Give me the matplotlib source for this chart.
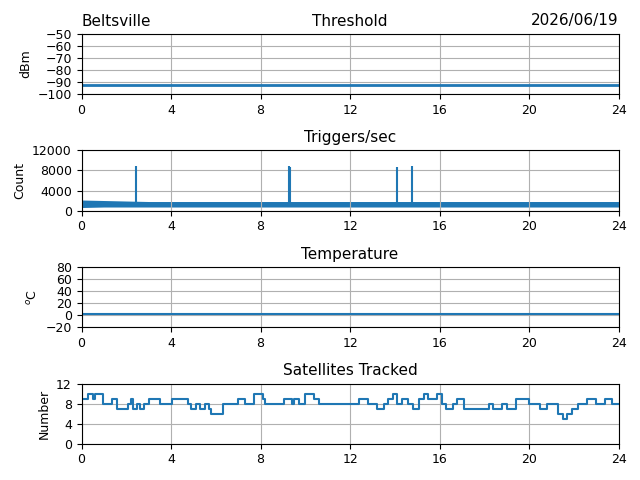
import numpy as np
import matplotlib
matplotlib.use("Agg")
import matplotlib.pyplot as plt

plt.rcParams["font.size"] = 9
plt.rcParams["axes.titlesize"] = 11

# threshold (dBm), flat
thr_hours = [0, 24]
thr_vals = [-93, -93]

# triggers/sec: band of low/high per hour, plus spikes
trig_hours = list(range(25))
trig_low = [600, 700, 700, 700, 700, 700, 700, 700, 700, 700, 700, 700, 700,
            700, 700, 700, 700, 700, 700, 700, 700, 700, 700, 700, 700]
trig_high = [2100, 2000, 1900, 1800, 1800, 1800, 1800, 1800, 1800, 1800, 1800, 1800, 1800,
             1800, 1800, 1800, 1800, 1800, 1800, 1800, 1800, 1800, 1800, 1800, 1800]
spike_hours = [2.45, 9.28, 9.33, 14.08, 14.75]
spike_vals = [8800, 8900, 8700, 8700, 8900]

# temperature
temp_hours = [0, 24]
temp_vals = [2, 2]

# satellites tracked, step change points
sat_hours = [0, 0.3, 0.5, 0.6, 0.95, 1.35, 1.6, 2.06, 2.2, 2.3, 2.5, 2.6, 2.8, 3.0, 3.17, 3.5,
             4.05, 4.4, 4.76, 4.9, 5.1, 5.3, 5.5, 5.7, 5.8, 6.3, 7.0, 7.3, 7.7, 8.1, 8.2,
             9.05, 9.4, 9.5, 9.7, 10.0, 10.4, 10.6, 11.8, 12.4, 12.8, 13.2, 13.5, 13.7, 13.9,
             14.1, 14.3, 14.6, 14.8, 15.1, 15.3, 15.5, 15.9, 16.1, 16.3, 16.6, 16.8, 17.1,
             17.7, 18.2, 18.4, 18.8, 19.0, 19.4, 20.0, 20.2, 20.5, 20.8, 21.3, 21.5, 21.7,
             21.9, 22.2, 22.6, 23.0, 23.4, 23.7, 24]
sat_vals = [9, 10, 9, 10, 8, 9, 7, 8, 9, 7, 8, 7, 8, 9, 9, 8,
            9, 9, 8, 7, 8, 7, 8, 7, 6, 8, 9, 8, 10, 9, 8,
            9, 8, 9, 8, 10, 9, 8, 8, 9, 8, 7, 8, 9, 10, 8, 9, 8, 7,
            9, 10, 9, 10, 8, 7, 8, 9, 7,
            7, 8, 7, 8, 7, 9, 8, 8, 7, 8, 6, 5, 6,
            7, 8, 9, 8, 9, 8, 8]

fig, axs = plt.subplots(4, 1, figsize=(6.4, 4.8), dpi=100)
xt = list(range(0, 25, 4))

ax = axs[0]
ax.plot(thr_hours, thr_vals, color="C0", lw=2)
ax.set_ylim(-100, -50)
ax.set_yticks(range(-100, -49, 10))
ax.set_ylabel("dBm")
ax.set_title("Threshold")
ax.set_title("Beltsville", loc="left")
ax.set_title("2026/06/19", loc="right")

ax = axs[1]
ax.fill_between(trig_hours, trig_low, trig_high, color="C0", lw=0)
ax.vlines(spike_hours, 1000, spike_vals, color="C0", lw=1.5)
ax.set_ylim(0, 12000)
ax.set_yticks(range(0, 12001, 4000))
ax.set_ylabel("Count")
ax.set_title("Triggers/sec")

ax = axs[2]
ax.plot(temp_hours, temp_vals, color="C0", lw=1.5)
ax.set_ylim(-20, 80)
ax.set_yticks(range(-20, 81, 20))
ax.set_ylabel("$^o$C")
ax.set_title("Temperature")

ax = axs[3]
ax.step(sat_hours, sat_vals, where="post", color="C0", lw=1.5)
ax.set_ylim(0, 12)
ax.set_yticks(range(0, 13, 4))
ax.set_ylabel("Number")
ax.set_title("Satellites Tracked")

for ax in axs:
    ax.set_xlim(0, 24)
    ax.set_xticks(xt)
    ax.grid(True)

plt.tight_layout()
plt.savefig("out.png")
